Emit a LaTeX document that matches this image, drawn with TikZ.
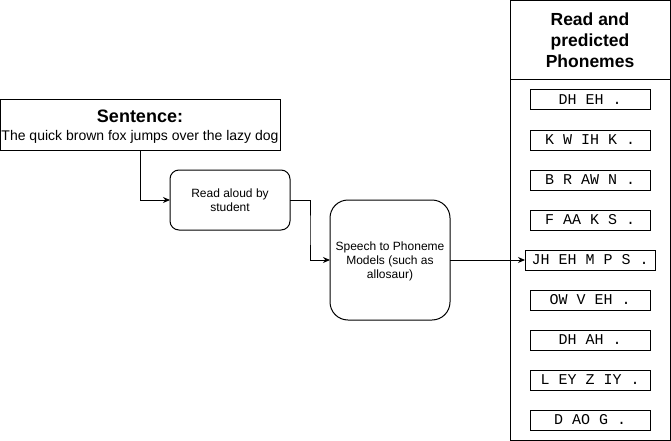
\documentclass[tikz,border=0pt]{standalone}
\usepackage{fontspec}
\setmainfont{Liberation Sans}
\setmonofont{Liberation Mono}
\usetikzlibrary{arrows.meta,calc}
\begin{document}
\begin{tikzpicture}[x=1pt,y=-1pt,
  every node/.style={inner sep=0pt,outer sep=0pt},
  box/.style={draw,line width=1pt,anchor=north west},
  phon/.style={draw,line width=1pt,minimum height=20pt,font=\fontsize{15}{18}\ttfamily},
  conn/.style={line width=1pt,-{Stealth[length=7pt,width=6pt]}},
  small/.style={font=\fontsize{12}{14}\selectfont,align=center}
]
\useasboundingbox (0,0) rectangle (671,441);
% sentence box
\node[box,minimum width=280pt,minimum height=50pt] (sent) at (0.5,100) {};
\node[font=\fontsize{18}{20}\selectfont\bfseries,anchor=base] (senttitle) at (140,122.5) {Sentence:};
\node[font=\fontsize{14}{16}\selectfont,anchor=base] (senttxt) at (140,140) {The quick brown fox jumps over the lazy dog};
% read aloud
\node[box,rounded corners=9pt,minimum width=120pt,minimum height=60pt] (read) at (170,170) {};
\node[small] (readtxt) at (230,200) {Read aloud by\\student};
% speech model
\node[box,rounded corners=18pt,minimum width=120pt,minimum height=120pt] (speech) at (330,200) {};
\node[small] (speechtxt) at (390,261) {Speech to Phoneme\\Models (such as\\allosaur)};
% right panel
\node[box,minimum width=160pt,minimum height=440pt] (panel) at (510,0.5) {};
\coordinate (hl) at (510,80);
\coordinate (hr) at (670,80);
\draw[line width=1pt] (hl) -- (hr);
\node[align=center,font=\fontsize{17.5}{21}\selectfont\bfseries] (ptitle) at (590,40) {Read and\\predicted\\Phonemes};
% phonemes
\node[phon,minimum width=120pt] (p1) at (590,100) {DH EH .};
\node[phon,minimum width=120pt] (p2) at (590,140) {K W IH K .};
\node[phon,minimum width=120pt] (p3) at (590,180) {B R AW N .};
\node[phon,minimum width=120pt] (p4) at (590,220) {F AA K S .};
\node[phon,minimum width=130pt] (p5) at (590,260) {JH EH M P S .};
\node[phon,minimum width=120pt] (p6) at (590,300) {OW V EH .};
\node[phon,minimum width=120pt] (p7) at (590,340) {DH AH .};
\node[phon,minimum width=120pt] (p8) at (590,380) {L EY Z IY .};
\node[phon,minimum width=120pt] (p9) at (590,420) {D AO G .};
% connectors
\draw[conn] (sent.south) |- (read.west);
\draw[conn] (read.east) -| ($(read.east)!0.5!(speech.west)$) |- (speech.west);
\draw[conn] (speech.east) -- (p5.west);
\end{tikzpicture}
\end{document}
